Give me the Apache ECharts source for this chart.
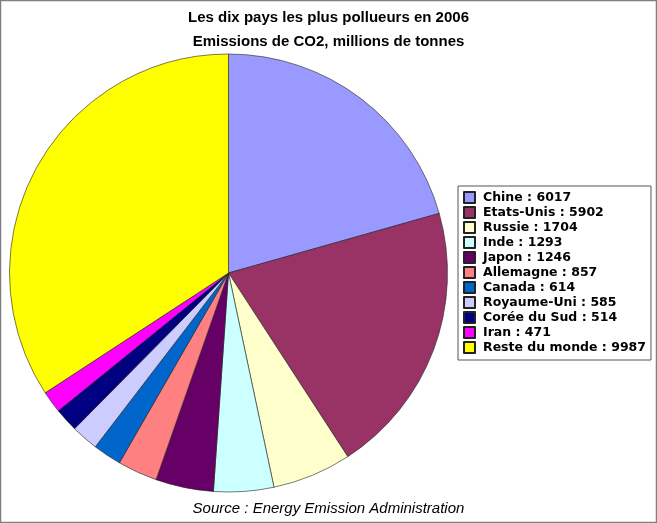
<!DOCTYPE html>
<html>
  <head>
    <meta charset="utf-8">
    <title>Les dix pays les plus pollueurs en 2006</title>
    <script src="https://cdn.jsdelivr.net/npm/echarts@6/dist/echarts.min.js"></script>
    <style>
      html, body { margin: 0; padding: 0; background: #fff; }
    </style>
  </head>
  <body>
    <div id="chart" style="width: 657px; height: 523px;"></div>
    <script type="text/javascript">
      var countries = ['Chine', 'Etats-Unis', 'Russie', 'Inde', 'Japon', 'Allemagne',
        'Canada', 'Royaume-Uni', 'Corée du Sud', 'Iran', 'Reste du monde'];
      var emissions = [6017, 5902, 1704, 1293, 1246, 857, 614, 585, 514, 471, 9987];
      var sliceColors = ['#9999FF', '#993366', '#FFFFCC', '#CCFFFF', '#660066', '#FF8080',
        '#0066CC', '#CCCCFF', '#000080', '#FF00FF', '#FFFF00'];

      (function () {
        var chartElem = echarts.init(document.getElementById('chart'));

        var data = countries.map(function (name, idx) {
          return { name: name, value: emissions[idx], itemStyle: { color: sliceColors[idx] } };
        });
        var valueOf = {};
        countries.forEach(function (name, idx) { valueOf[name] = emissions[idx]; });

        var titleFont = { fontFamily: 'Liberation Sans', fontSize: 15, fontWeight: 'bold', color: '#000' };

        chartElem.setOption({
          animation: false,
          backgroundColor: '#ffffff',
          title: [{
            text: 'Les dix pays les plus pollueurs en 2006',
            left: 'center',
            top: 5,
            textStyle: titleFont,
          }, {
            text: 'Emissions de CO2, millions de tonnes',
            left: 'center',
            top: 29,
            textStyle: titleFont,
          }, {
            text: 'Source : Energy Emission Administration',
            left: 'center',
            top: 496,
            textStyle: { fontFamily: 'Liberation Sans', fontSize: 15, fontStyle: 'italic', fontWeight: 'normal', color: '#000' },
          }],
          legend: {
            orient: 'vertical',
            left: 458,
            top: 186,
            padding: [5, 5, 6, 5],
            itemWidth: 11,
            itemHeight: 11,
            itemGap: 2,
            icon: 'rect',
            borderColor: '#555',
            borderWidth: 1,
            backgroundColor: '#fff',
            selectedMode: false,
            formatter: function (name) { return name + ' : ' + valueOf[name]; },
            textStyle: {
              fontFamily: 'DejaVu Sans', fontSize: 12.5, fontWeight: 'bold', color: '#000',
              lineHeight: 13, padding: [0, 0, 0, 3],
            },
          },
          graphic: [{
            type: 'rect',
            shape: { x: 0.5, y: 0.5, width: 656, height: 522 },
            style: { fill: 'none', stroke: '#808080', lineWidth: 1.5 },
            silent: true,
          }],
          series: [{
            type: 'pie',
            center: [228.5, 273],
            radius: [0, 219],
            startAngle: 90,
            clockwise: true,
            label: { show: false },
            labelLine: { show: false },
            emphasis: { disabled: true },
            itemStyle: { borderColor: '#222', borderWidth: 0.6 },
            data: data,
          }],
        });
      })();
    </script>
  </body>
</html>
